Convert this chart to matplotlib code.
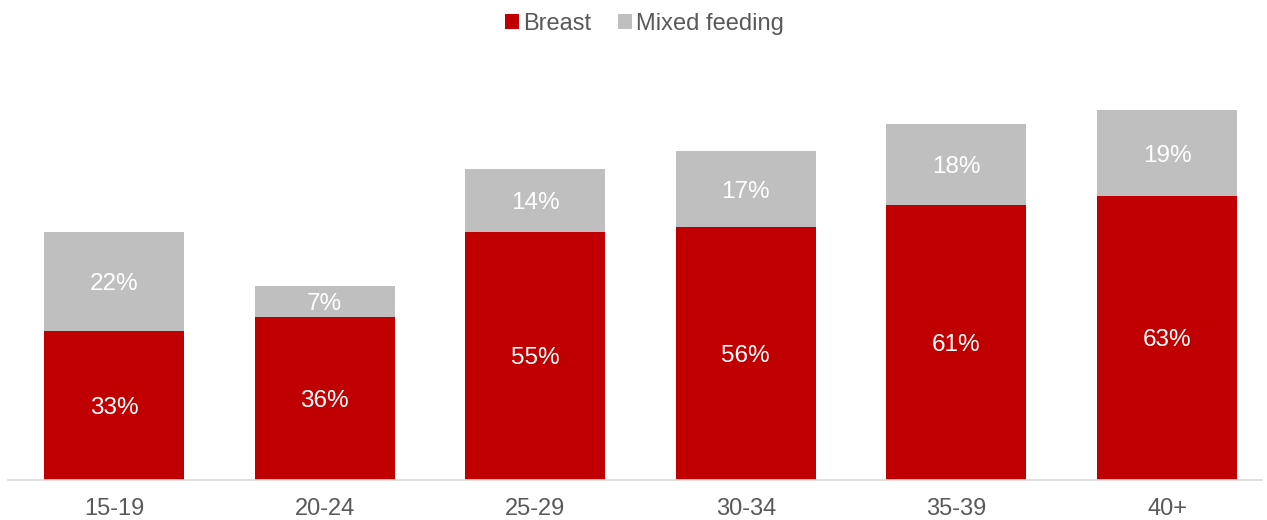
import matplotlib.pyplot as plt
from matplotlib.patches import Patch

plt.rcParams['font.family'] = ['Liberation Sans', 'DejaVu Sans']

age_groups = ['15-19', '20-24', '25-29', '30-34', '35-39', '40+']
breast = [33, 36, 55, 56, 61, 63]
mixed_feeding = [22, 7, 14, 17, 18, 19]

red = '#C00000'
grey = '#BFBFBF'
text_grey = '#595959'

fig = plt.figure(figsize=(12.67, 5.20), dpi=100)
ax = fig.add_axes([8 / 1267, 1 - 479.5 / 520, 1254 / 1267, 420 / 520])

x = range(len(age_groups))
width = 0.665
ax.bar(x, breast, width, color=red, label='Breast')
ax.bar(x, mixed_feeding, width, bottom=breast, color=grey, label='Mixed feeding')

for i, (b, m) in enumerate(zip(breast, mixed_feeding)):
    ax.text(i, b / 2, f'{b}%', ha='center', va='center_baseline', color='white', fontsize=17.5)
    ax.text(i, b + m / 2, f'{m}%', ha='center', va='center_baseline', color='white', fontsize=17.5)

ax.set_xlim(-0.503, 5.451)
ax.set_ylim(0, 93.3)
ax.set_xticks(list(x))
ax.set_xticklabels(age_groups, fontsize=17, color=text_grey)
ax.tick_params(axis='x', length=0, pad=13)
ax.set_yticks([])
for side in ['top', 'right', 'left']:
    ax.spines[side].set_visible(False)
ax.spines['bottom'].set_color('#D9D9D9')
ax.spines['bottom'].set_linewidth(1.2)

handles = [Patch(facecolor=red, label='Breast'), Patch(facecolor=grey, label='Mixed feeding')]
fig.legend(handles=handles, loc='center', bbox_to_anchor=(0.5 + 11 / 1267, 1 - 24 / 520), ncol=2,
           frameon=False, fontsize=17, handlelength=0.6, handleheight=0.6,
           handletextpad=0.2, columnspacing=1.1, labelcolor=text_grey)

fig.savefig('out.png', dpi=100, facecolor='white')
